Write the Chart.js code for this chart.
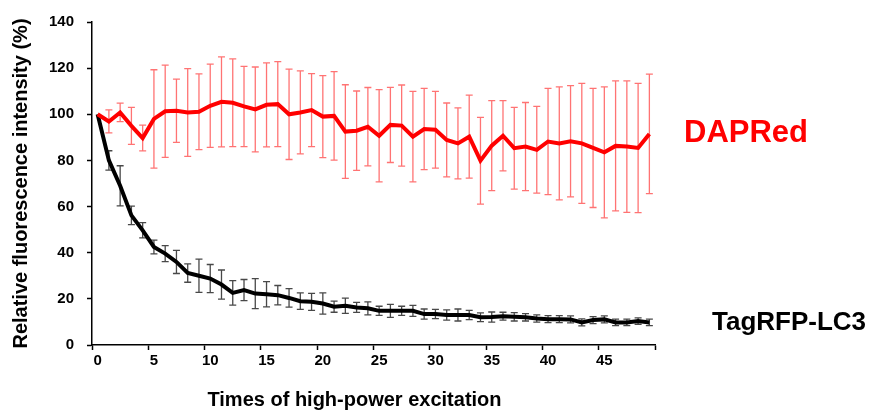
<!DOCTYPE html>
<html lang="en">

<head>
    <meta charset="UTF-8">
    <title>Photostability</title>
    <script src="https://cdn.jsdelivr.net/npm/chart.js@4.4.3/dist/chart.umd.min.js"></script>
    <style>
        html, body { margin: 0; padding: 0; background: #fff; }
        #wrap { width: 873px; height: 413px; }
    </style>
</head>

<body>
    <div id="wrap"><canvas id="mychart" width="873" height="413"></canvas></div>

    <script>
        // x categories: number of high-power excitations (0..49)
        const times = [0, 1, 2, 3, 4, 5, 6, 7, 8, 9, 10, 11, 12, 13, 14, 15, 16, 17, 18, 19,
            20, 21, 22, 23, 24, 25, 26, 27, 28, 29, 30, 31, 32, 33, 34, 35, 36, 37, 38, 39,
            40, 41, 42, 43, 44, 45, 46, 47, 48, 49];

        // DAPRed mean and error (%)
        const dapred = [100, 96.9, 100.8, 95, 89.7, 98, 101.3, 101.5, 100.8, 101.1,
            103.7, 105.4, 105, 103.4, 102.1, 104.1, 104.4, 100, 100.8, 101.8,
            99, 99.3, 92.5, 92.9, 94.6, 90.7, 95.4, 95.1, 90.3, 93.6,
            93.3, 88.9, 87.4, 90.3, 79.9, 86.4, 90.7, 85.3, 86, 84.6,
            88.2, 87.4, 88.3, 87.4, 85.4, 83.5, 86.3, 86, 85.4, 91.5];
        const dapredErr = [0, 5, 4, 8, 5.6, 21.3, 20, 13.7, 19, 16.4,
            18, 19.5, 19, 17.4, 18.4, 18.2, 18.4, 19.6, 18, 15.8,
            17.8, 19.2, 20.3, 17.2, 17, 20, 16.3, 17.6, 19.6, 17.6,
            16.6, 16, 15.4, 18, 18.8, 19.5, 15.2, 17.7, 19.1, 18.8,
            23, 24.5, 24.1, 26, 25.8, 28.4, 28.2, 28.5, 28, 25.9];

        // TagRFP-LC3 mean and error (%)
        const tagrfp = [100, 80, 69, 56.2, 49.7, 42.5, 39.6, 36, 31.2, 30,
            28.8, 26.2, 22.6, 23.8, 22.3, 22, 21.6, 20.4, 19, 18.7,
            18, 16.6, 17, 16.3, 15.9, 14.8, 14.8, 14.8, 14.8, 13.4,
            13.4, 13, 13, 13, 12, 12.1, 12.5, 12.2, 12, 11.5,
            11.2, 11.2, 11.1, 9.8, 10.8, 11.1, 9.8, 9.8, 10.4, 9.8];
        const tagrfpErr = [0, 4.2, 8.7, 4, 3.3, 3, 3.5, 5, 4, 7.2,
            6.1, 6.3, 5.3, 4.6, 6.5, 5.5, 4.2, 4, 3.6, 3.7,
            4.6, 2.4, 3.3, 2.2, 2.8, 2, 2.8, 2, 2.4, 2.2,
            2, 2.2, 2.6, 2, 1.9, 2.2, 1.7, 1.8, 1.6, 1.6,
            1.5, 1.5, 1.5, 1.5, 1.5, 1.5, 1.4, 1.4, 1.4, 1.4];

        const yTicks = [0, 20, 40, 60, 80, 100, 120, 140];

        const FONT = '"Liberation Sans", Arial, sans-serif';
        Chart.defaults.font.family = FONT;
        Chart.defaults.color = '#000';

        // draws the error bars (behind the lines) and the series names + x title
        const errorBars = {
            id: 'errorBars',
            beforeDatasetsDraw(chart) {
                const ctx = chart.ctx;
                const x = chart.scales.x, y = chart.scales.y;
                chart.data.datasets.forEach((ds) => {
                    ctx.save();
                    ctx.strokeStyle = ds.errColor;
                    ctx.lineWidth = 1.3;
                    ds.data.forEach((v, i) => {
                        const e = ds.errors[i];
                        if (!e) return;
                        const px = x.getPixelForValue(i);
                        const top = y.getPixelForValue(v + e);
                        const bot = y.getPixelForValue(v - e);
                        ctx.beginPath();
                        ctx.moveTo(px, top); ctx.lineTo(px, bot);
                        ctx.moveTo(px - 3.5, top); ctx.lineTo(px + 3.5, top);
                        ctx.moveTo(px - 3.5, bot); ctx.lineTo(px + 3.5, bot);
                        ctx.stroke();
                    });
                    ctx.restore();
                });
            },
            afterDraw(chart) {
                const ctx = chart.ctx;
                const area = chart.chartArea;
                const y = chart.scales.y;
                ctx.save();
                ctx.textBaseline = 'middle';
                ctx.textAlign = 'left';
                // series names, next to the last point of each line
                ctx.font = 'bold 31px ' + FONT;
                ctx.fillStyle = '#ff0000';
                ctx.fillText('DAPRed', area.right + 29, y.getPixelForValue(dapred[dapred.length - 1]));
                ctx.font = 'bold 26px ' + FONT;
                ctx.fillStyle = '#000';
                ctx.fillText('TagRFP-LC3', area.right + 57, y.getPixelForValue(tagrfp[tagrfp.length - 1]));
                // x axis title
                ctx.textAlign = 'center';
                ctx.font = 'bold 20px ' + FONT;
                ctx.fillText('Times of high-power excitation', (area.left + area.right) / 2 - 19, 400);
                ctx.restore();
            }
        };

        var data = {
            labels: times,
            datasets: [
                {
                    label: 'DAPRed',
                    data: dapred,
                    errors: dapredErr,
                    errColor: 'rgba(255, 0, 0, 0.55)',
                    borderColor: '#ff0000',
                    borderWidth: 4,
                    pointRadius: 0,
                    tension: 0
                },
                {
                    label: 'TagRFP-LC3',
                    data: tagrfp,
                    errors: tagrfpErr,
                    errColor: 'rgba(40, 40, 40, 0.85)',
                    borderColor: '#000',
                    borderWidth: 4,
                    pointRadius: 0,
                    tension: 0
                }
            ]
        };

        var config = {
            type: 'line',
            data: data,
            plugins: [errorBars],
            options: {
                responsive: false,
                animation: false,
                layout: { padding: { top: 21, right: 218, left: 0, bottom: 0 } },
                plugins: {
                    legend: { display: false },
                    tooltip: { enabled: false }
                },
                scales: {
                    x: {
                        type: 'category',
                        offset: true,
                        afterFit: (s) => { s.height = 68; },
                        border: { display: true, color: '#000', width: 1.5 },
                        grid: {
                            offset: true,
                            drawOnChartArea: false,
                            drawTicks: true,
                            tickLength: 5,
                            tickWidth: 1.5,
                            tickColor: (c) => (c.index === undefined || c.index % 5 === 0) ? '#000' : 'rgba(0,0,0,0)'
                        },
                        ticks: {
                            autoSkip: false,
                            maxRotation: 0,
                            padding: 2,
                            font: { size: 15, weight: 'bold' },
                            callback: (val, i) => (i % 5 === 0 ? times[i] : '')
                        }
                    },
                    y: {
                        min: 0,
                        max: 140,
                        afterFit: (s) => { s.width = 92; },
                        afterBuildTicks: (s) => { s.ticks = yTicks.map(v => ({ value: v })); },
                        border: { display: true, color: '#000', width: 1.5 },
                        grid: {
                            drawOnChartArea: false,
                            drawTicks: true,
                            tickLength: 5,
                            tickWidth: 1.5,
                            tickColor: '#000'
                        },
                        ticks: {
                            padding: 13,
                            font: { size: 15, weight: 'bold' }
                        },
                        title: {
                            display: true,
                            text: 'Relative fluorescence intensity (%)',
                            font: { size: 20, weight: 'bold' },
                            padding: { top: 9, bottom: 0 }
                        }
                    }
                }
            }
        };

        var mychart = new Chart(document.getElementById('mychart'), config);
    </script>
</body>

</html>
